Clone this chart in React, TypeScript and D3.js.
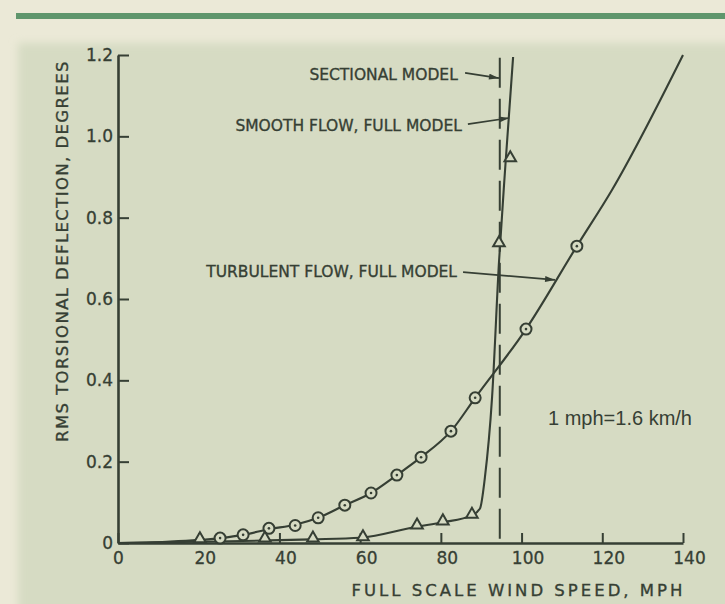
import { useEffect, useRef } from "react";
import * as d3 from "d3";

// axis ticks
const xTicks = [0, 20, 40, 60, 80, 100, 120, 140];
const yTicks = [0, 0.2, 0.4, 0.6, 0.8, 1.0, 1.2];

// turbulent flow, full model (circles)
const turbSpeed = [25.3, 31, 37.4, 43.9, 49.6, 56.2, 62.7, 69.1, 75.1, 82.5, 88.5, 101.1, 113.7];
const turbDefl = [0.012, 0.02, 0.036, 0.043, 0.062, 0.093, 0.123, 0.167, 0.211, 0.275, 0.357, 0.526, 0.73];

// faired curve for turbulent flow
const turbCurveSpeed = [0, 12, 25.3, 31, 37.4, 43.9, 49.6, 56.2, 62.7, 69.1, 75.1, 82.5, 88.5, 101.1, 113.7, 122.4, 140];
const turbCurveDefl = [0, 0.003, 0.012, 0.02, 0.034, 0.045, 0.062, 0.093, 0.123, 0.167, 0.211, 0.275, 0.357, 0.526, 0.73, 0.868, 1.2];

// smooth flow, full model (triangles)
const smoothSpeed = [20.3, 36.4, 48.3, 60.7, 74.1, 80.5, 87.7, 94.4, 97.2];
const smoothDefl = [0.01, 0.012, 0.012, 0.015, 0.044, 0.054, 0.07, 0.738, 0.947];

// faired curve for smooth flow
const smoothCurveSpeed = [0, 20, 36, 48, 60, 74, 80.5, 87.7, 89.7, 90.9, 92.7, 94.4, 96, 97.9];
const smoothCurveDefl = [0, 0.003, 0.006, 0.009, 0.013, 0.04, 0.051, 0.068, 0.085, 0.16, 0.36, 0.69, 0.93, 1.195];

// sectional model: flutter onset speed
const sectionalSpeed = 94.6;
const sectionalTop = 1.193;

const notes = [
  { text: "SECTIONAL MODEL", tx: 84.2, ty: 1.138, from: [86, 1.156], to: [94.4, 1.143] },
  { text: "SMOOTH FLOW, FULL MODEL", tx: 85.2, ty: 1.012, from: [86.7, 1.03], to: [96.9, 1.045] },
  { text: "TURBULENT FLOW, FULL MODEL", tx: 84, ty: 0.655, from: [85.5, 0.666], to: [108.3, 0.647] },
];

const W = 725;
const H = 604;
const ink = "#363f34";
const panel = "#d6dbc3";
const font = "'DejaVu Sans', sans-serif";

export default function App() {
  const xAxisRef = useRef<SVGGElement>(null);
  const yAxisRef = useRef<SVGGElement>(null);

  const x = d3.scaleLinear([0, 140], [118, 683]);
  const y = d3.scaleLinear([0, 1.2], [543, 55]);

  useEffect(() => {
    const gx = d3.select(xAxisRef.current!);
    gx.selectAll("*").remove();
    gx.call(
      d3
        .axisBottom(x)
        .tickValues(xTicks)
        .tickSizeInner(-10)
        .tickSizeOuter(0)
        .tickPadding(9)
        .tickFormat(d3.format("d") as any)
    );
    const gy = d3.select(yAxisRef.current!);
    gy.selectAll("*").remove();
    gy.call(
      d3
        .axisLeft(y)
        .tickValues(yTicks)
        .tickSizeInner(-11)
        .tickSizeOuter(0)
        .tickPadding(5)
        .tickFormat((d: any) => (d === 0 ? "0" : d3.format(".1f")(d)))
    );
    [gx, gy].forEach((g) => {
      g.attr("font-family", font).attr("font-size", 17);
      g.select(".domain").attr("stroke", ink).attr("stroke-width", 2.6);
      g.selectAll(".tick line").attr("stroke", ink).attr("stroke-width", 2);
      g.selectAll(".tick text").attr("fill", ink).attr("stroke", ink).attr("stroke-width", 0.3);
    });
    gx.selectAll<SVGTextElement, number>(".tick text").attr("dx", (d) => (d === 0 ? 0 : 6));
  }, []);

  const turbLine = d3
    .line<number>()
    .x((d) => x(turbCurveSpeed[d]))
    .y((d) => y(turbCurveDefl[d]))
    .curve(d3.curveMonotoneX);
  const smoothLine = d3
    .line<number>()
    .x((d) => x(smoothCurveSpeed[d]))
    .y((d) => y(smoothCurveDefl[d]))
    .curve(d3.curveMonotoneX);
  const tri = d3.symbol().type(d3.symbolTriangle).size(58)();

  const lettering = { fontFamily: font, fill: ink, stroke: ink, strokeWidth: 0.35 };

  return (
    <svg width={W} height={H} style={{ position: "absolute", left: 0, top: 0 }}>
      <defs>
        <filter id="soft" x="-5%" y="-5%" width="110%" height="110%">
          <feGaussianBlur stdDeviation="4" />
        </filter>
        <marker
          id="arr"
          viewBox="0 0 10 6"
          refX="10"
          refY="3"
          markerWidth="11"
          markerHeight="6"
          orient="auto"
          markerUnits="userSpaceOnUse"
        >
          <path d="M0,0L10,3L0,6Z" fill={ink} />
        </marker>
      </defs>
      <rect width={W} height={H} fill="#ebe9d7" />
      <rect x={18} y={43} width={W} height={H} fill={panel} filter="url(#soft)" />
      <rect x={16} y={13} width={W - 16} height={6} fill="#5f966c" />

      {/* sectional model */}
      <line
        x1={x(sectionalSpeed)}
        x2={x(sectionalSpeed)}
        y1={y(sectionalTop)}
        y2={y(0)}
        stroke={ink}
        strokeWidth={2}
        strokeDasharray="30 11"
      />

      <path d={turbLine(d3.range(turbCurveSpeed.length))!} fill="none" stroke={ink} strokeWidth={2.1} />
      <path d={smoothLine(d3.range(smoothCurveSpeed.length))!} fill="none" stroke={ink} strokeWidth={2.1} />

      <g ref={xAxisRef} transform={`translate(0,${y(0)})`} />
      <g ref={yAxisRef} transform={`translate(${x(0)},0)`} />

      {turbSpeed.map((s, i) => (
        <g key={"c" + i} transform={`translate(${x(s)},${y(turbDefl[i])})`}>
          <circle r={5.5} fill={panel} stroke={ink} strokeWidth={2} />
          <circle r={1.3} fill={ink} />
        </g>
      ))}
      {smoothSpeed.map((s, i) => (
        <path
          key={"t" + i}
          d={tri!}
          transform={`translate(${x(s)},${y(smoothDefl[i])})`}
          fill={panel}
          stroke={ink}
          strokeWidth={2}
        />
      ))}

      {notes.map((n) => (
        <g key={n.text}>
          <text x={x(n.tx)} y={y(n.ty)} textAnchor="end" fontSize={15.5} {...lettering}>
            {n.text}
          </text>
          <line
            x1={x(n.from[0])}
            y1={y(n.from[1])}
            x2={x(n.to[0])}
            y2={y(n.to[1])}
            stroke={ink}
            strokeWidth={1.7}
            markerEnd="url(#arr)"
          />
        </g>
      ))}

      <text
        x={548}
        y={425}
        fontFamily="'Liberation Sans', Arial, sans-serif"
        fontSize={20}
        fill={ink}
      >
        1 mph=1.6 km/h
      </text>

      <text
        x={(x(0) + x(140)) / 2 + 118}
        y={596}
        textAnchor="middle"
        fontSize={16.5}
        letterSpacing={3}
        {...lettering}
      >
        FULL SCALE WIND SPEED, MPH
      </text>
      <text
        transform="translate(68,251) rotate(-90)"
        textAnchor="middle"
        fontSize={16.5}
        letterSpacing={1.4}
        {...lettering}
      >
        RMS TORSIONAL DEFLECTION, DEGREES
      </text>
    </svg>
  );
}
